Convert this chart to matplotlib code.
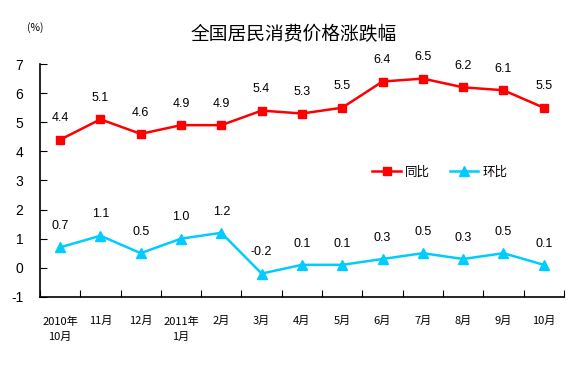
import matplotlib
matplotlib.use("Agg")
import matplotlib.pyplot as plt

plt.rcParams['font.family'] = ['Noto Sans CJK SC', 'DejaVu Sans']
plt.rcParams['axes.unicode_minus'] = False

# data
months = ['2010年\n10月', '11月', '12月', '2011年\n1月', '2月', '3月', '4月',
          '5月', '6月', '7月', '8月', '9月', '10月']
yoy = [4.4, 5.1, 4.6, 4.9, 4.9, 5.4, 5.3, 5.5, 6.4, 6.5, 6.2, 6.1, 5.5]
mom = [0.7, 1.1, 0.5, 1.0, 1.2, -0.2, 0.1, 0.1, 0.3, 0.5, 0.3, 0.5, 0.1]

RED = '#FF0000'
CYAN = '#00CCFF'

fig = plt.figure(figsize=(5.88, 3.66), dpi=100)
ax = fig.add_axes([0.068, 0.189, 0.891, 0.636])

x = list(range(len(months)))
ax.plot(x, yoy, color=RED, lw=1.8, marker='s', ms=6, label='同比')
ax.plot(x, mom, color=CYAN, lw=1.8, marker='^', ms=7, label='环比')

for xi, v in zip(x, yoy):
    ax.annotate(f'{v:.1f}', (xi, v), xytext=(0, 11), textcoords='offset points',
                ha='center', va='bottom', fontsize=9, family='Liberation Sans')
for xi, v in zip(x, mom):
    ax.annotate(f'{v:.1f}', (xi, v), xytext=(0, 11), textcoords='offset points',
                ha='center', va='bottom', fontsize=9, family='Liberation Sans')

ax.set_xlim(-0.5, len(months) - 0.5)
ax.set_ylim(-1, 7)
ax.set_yticks(range(-1, 8))
for lab in ax.get_yticklabels():
    lab.set_family('Liberation Sans')
ax.tick_params(axis='y', direction='in', length=5, labelsize=10, pad=12)

ax.set_xticks([i - 0.5 for i in range(len(months) + 1)])
ax.set_xticklabels([])
ax.tick_params(axis='x', which='major', direction='in', length=5)
ax.set_xticks(x, minor=True)
ax.set_xticklabels(months, minor=True, fontsize=8, linespacing=1.6)
ax.tick_params(axis='x', which='minor', length=0, pad=14)

ax.spines['top'].set_visible(False)
ax.spines['right'].set_visible(False)
ax.spines['left'].set_linewidth(1.2)
ax.spines['bottom'].set_linewidth(1.2)

ax.legend(loc='center left', bbox_to_anchor=(0.634, 0.536), ncol=2, frameon=False,
          fontsize=9, handlelength=2.3, columnspacing=1.6, handletextpad=0.3,
          borderaxespad=0, borderpad=0)

fig.text(0.5, 0.905, '全国居民消费价格涨跌幅', ha='center', va='center', fontsize=13.5)
fig.text(0.06, 0.925, '(%)', ha='center', va='center', fontsize=7.5)

fig.savefig('out.png', dpi=100)
